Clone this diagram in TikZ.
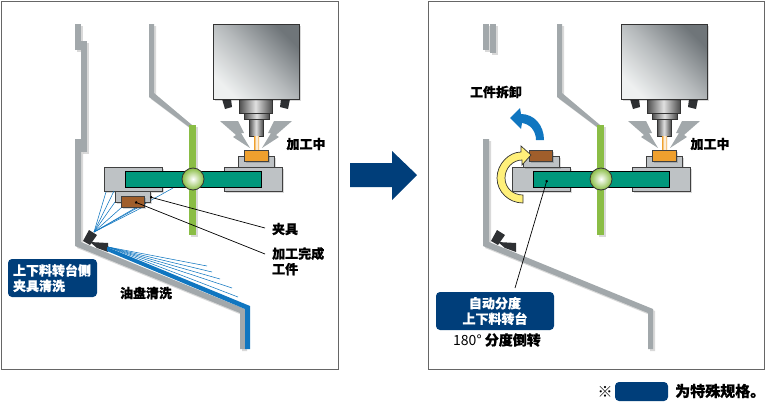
\documentclass[tikz,border=0pt]{standalone}
\usepackage{fontspec}
\usepackage{xcolor}
\setmainfont[BoldFeatures={FakeBold=.5}]{Noto Sans CJK SC}
\usetikzlibrary{shadows,arrows.meta}

\definecolor{wallgray}{HTML}{A2A8AB}
\definecolor{blockgray}{HTML}{BEC2C5}
\definecolor{barteal}{HTML}{00987C}
\definecolor{columngreen}{HTML}{8ABD45}
\definecolor{navybox}{HTML}{003E7A}
\definecolor{spraylue}{HTML}{1076C0}
\definecolor{partorange}{HTML}{EFA02E}
\definecolor{partbrown}{HTML}{A05E2B}
\definecolor{nozzledark}{HTML}{2E3033}
\definecolor{arrowyellow}{HTML}{FFF07A}
\definecolor{headdark}{HTML}{6F7579}
\definecolor{headmid}{HTML}{B7BBBD}
\definecolor{headlight}{HTML}{EEF0F0}

\tikzset{
    softshadow/.style={drop shadow={shadow xshift=2pt, shadow yshift=-2pt, fill=black, opacity=.15}},
    wall/.style={fill=wallgray, softshadow},
    block/.style={draw=black!75, line width=.7pt, fill=blockgray, softshadow},
    spindle/.style={draw=black!80, line width=.7pt, left color=black!70, right color=black!70, middle color=black!12},
    bolt/.style={fill=wallgray},
    nozzle/.style={fill=nozzledark},
    spray/.style={draw=spraylue, line width=.55pt},
    leader/.style={draw=black, line width=.7pt},
    label/.style={font=\bfseries\fontsize{13}{15.5}\selectfont, inner sep=0pt},
    tagbox/.style={fill=navybox, rounded corners=4pt, text=white, font=\bfseries\fontsize{13}{15.5}\selectfont, inner sep=0pt}
}

\begin{document}
\begin{tikzpicture}[x=1pt, y=-1pt]
    \useasboundingbox (0,0) rectangle (765,408);
    \draw[black!60, line width=1pt] (1.5,1.5) rectangle (338,369);
    \draw[black!60, line width=1pt] (428,1.5) rectangle (764,369);

    % parts shared by the two stations
    \foreach \cellx in {0,408} {
        \begin{scope}[xshift=\cellx]
            \fill[wall] (149,24) -- (154,24) -- (154,93) -- (192,125) -- (189,127) -- (149,97) -- cycle;
            \fill[wall] (75,139) -- (81,139) -- (81,242) -- (245,309) -- (245,349) -- (240,349) -- (240,313) -- (75,246) -- cycle;
            \fill[columngreen, softshadow] (189,125) rectangle (196,235);

            % spindle
            \fill[nozzle] (222,99) -- (231,99) -- (232,107) -- (225,109) -- cycle;
            \fill[nozzle] (281,99) -- (290,99) -- (288,109) -- (280,107) -- cycle;
            \shade[spindle] (249,119) rectangle (263,136);
            \shade[spindle] (244,113) rectangle (269,119);
            \shade[spindle] (239,99) rectangle (272,113);
            \fill[softshadow, black] (213,24) rectangle (299,99);
            \shade[draw=black!80, line width=.7pt, top color=headdark, bottom color=headlight, middle color=headmid, shading angle=315] (213,24) rectangle (299,99);
            \fill[bolt] (220,121) -- (238,121) -- (244,133) -- (241,133) -- (250,148) -- (233,137) -- (236,135) -- cycle;
            \fill[bolt] (292,121) -- (274,121) -- (268,133) -- (271,133) -- (262,148) -- (279,137) -- (276,135) -- cycle;
            \shade[left color=partorange, right color=partorange, middle color=white] (254,136) rectangle (259,150);

            % table with the part being cut
            \fill[block] (238,156) rectangle (274,167);
            \fill[block, fill=partorange] (244,150) rectangle (268,161);
            \fill[block] (224,167) rectangle (282,191);
            \fill[block] (104,167) rectangle (162,191);
            \draw[black, line width=.8pt, fill=barteal] (125,171) rectangle (261,187);
            \shade[draw=black!80, line width=.8pt, inner color=white, outer color=columngreen] (193,179) circle [radius=11];

            \fill[nozzle] (83,241) -- (89,230) -- (97,235) -- (90,245) -- cycle;
            \fill[nozzle] (90,242) -- (108,243) -- (108,252) -- (97,248) -- cycle;
        \end{scope}
    }

    % clearing the fixture and the pan on the first station
    \foreach \sprayx/\sprayy in {106/192, 114/191, 115/202, 122/207, 143/207, 149/200, 173/188} {
        \draw[spray] (94,232) -- (\sprayx,\sprayy);
    }
    \foreach \sprayx/\sprayy in {207/266, 212/272, 220/279, 232/288, 238/297} {
        \draw[spray] (108,247) -- (\sprayx,\sprayy);
    }
    \fill[spraylue] (107,247) -- (250,306) -- (250,349) -- (245,349) -- (245,309) -- (107,251) -- cycle;
    \fill[block] (115,191) rectangle (150,202);
    \fill[block, fill=partbrown] (121,196) rectangle (144,207);

    \fill[wall] (75,24) rectangle (81,50);
    \fill[wall] (81,41) rectangle (87,152);
    \fill[wall] (483,24) rectangle (489,50);
    \fill[wall] (490,24) rectangle (496,53);

    % second station, part swung over to the unloading side
    \fill[block] (523,156) rectangle (559,167);
    \fill[block, fill=partbrown] (529,150) rectangle (552,161);
    \fill[fill=spraylue] (544,140) .. controls (544,125) and (534,114) .. (521,114) -- (520,108) -- (510,118) -- (521,129) -- (522,123) .. controls (530,124) and (536,131) .. (536,140) -- cycle;
    \draw[black!80, line width=.7pt, fill=arrowyellow] (523,203) .. controls (509,203) and (497,192) .. (497,178) .. controls (497,164) and (509,152) .. (521,152) -- (521,146) -- (531,155) -- (522,165) -- (522,160) .. controls (513,160) and (505,168) .. (505,178) .. controls (505,188) and (513,195) .. (523,195) -- cycle;

    \fill[navybox] (350,163) -- (392,163) -- (392,151) -- (417,175) -- (392,200) -- (392,187) -- (350,187) -- cycle;

    % labels
    \node[label] (cutleft) at (306,144) {加工中};
    \node[label] (cutright) at (710,144) {加工中};
    \node[label] (jiglabel) at (285,229) {夹具};
    \node[label, align=left, anchor=north west] (donelabel) at (272,247) {加工完成\\工件};
    \node[label] (panlabel) at (146,293) {油盘清洗};
    \node[label] (unloadlabel) at (496,92) {工件拆卸};
    \node[tagbox, minimum width=89pt, minimum height=38pt, align=left, text width=79pt] (jigtag) at (52.5,278) {上下料转台侧\\夹具清洗};
    \node[tagbox, minimum width=118pt, minimum height=38pt, align=center] (indextag) at (495,311) {自动分度\\上下料转台};
    \node[label, font=\fontsize{14}{16}\selectfont, anchor=north] (turnlabel) at (497,333) {180° \textbf{分度倒转}};
    \node[font=\fontsize{15}{17}\selectfont, inner sep=0pt] (marklabel) at (605,392) {※};
    \node[tagbox, minimum width=53pt, minimum height=19pt] (keybox) at (641.5,391.5) {};
    \node[label, font=\bfseries\fontsize{15}{17}\selectfont, anchor=west] (speclabel) at (675,391) {为特殊规格。};

    % leader lines
    \coordinate (jigdot) at (150,197);
    \coordinate (partdot) at (135,202);
    \coordinate (bardot) at (547,180);
    \coordinate (jigend) at (265,228);
    \coordinate (partend) at (265,254);
    \coordinate (tagend) at (515,288);
    \draw[leader, {Circle[length=2.5pt]}-] (jigdot) -- (jigend);
    \draw[leader, {Circle[length=2.5pt]}-] (partdot) -- (partend);
    \draw[leader, {Circle[length=2.5pt]}-] (bardot) -- (tagend);
\end{tikzpicture}
\end{document}
